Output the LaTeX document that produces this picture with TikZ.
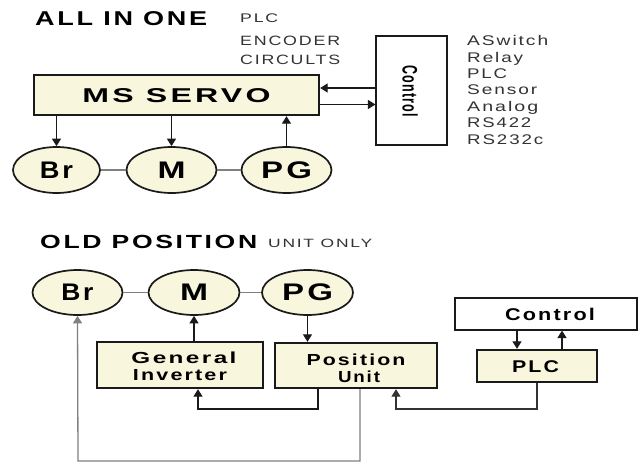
\documentclass[tikz,border=0pt]{standalone}
\usepackage{fontspec}
\setmainfont{Liberation Sans}[LetterSpace=10]
\usepackage{graphicx}
\usetikzlibrary{arrows.meta,shapes.geometric}
\definecolor{cream}{HTML}{F8F6DC}
\definecolor{ink}{HTML}{1A1A1A}
\definecolor{txtgray}{HTML}{333333}
\definecolor{linegray}{HTML}{808080}
\newcommand\ft[3]{\resizebox{#1pt}{\height}{\fontsize{#2}{#2}\selectfont #3}}
\tikzset{
  x=1pt, y=-1pt,
  crbox/.style={draw=ink, line width=2.4pt, fill=cream, inner sep=0pt},
  wbox/.style={draw=ink, line width=1.1pt, fill=white, inner sep=0pt},
  ell/.style={ellipse, draw=ink, line width=1.7pt, fill=cream, inner sep=0pt},
  lbl/.style={inner sep=0pt, anchor=base},
  lblw/.style={inner sep=0pt, anchor=base west, text=txtgray},
  arr/.style={draw=ink, line width=1.3pt, -{Triangle[length=7.5pt,width=9pt]}},
  garr/.style={draw=linegray, line width=1.3pt, -{Triangle[length=7.5pt,width=9pt]}},
  link/.style={draw=linegray, line width=1.4pt},
}
\begin{document}
\begin{tikzpicture}
\fill[white] (0,0) rectangle (642,463);
\useasboundingbox (0,0) rectangle (642,463);

% ---------- ALL IN ONE ----------
\node[lbl, anchor=base west] (t1) at (35,25) {\ft{172}{20}{\bfseries ALL IN ONE}};
\node[lblw] (t1a) at (240,22.7) {\ft{38}{12.5}{PLC}};
\node[lblw] (t1b) at (240,45) {\ft{100}{13.5}{ENCODER}};
\node[lblw] (t1c) at (240,64.5) {\ft{100}{13.5}{CIRCULTS}};

\node[crbox, minimum width=285pt, minimum height=40pt] (servo) at (176.5,95) {};
\node[lbl] (servot) at (176.5,102.7) {\ft{188}{20}{\bfseries MS SERVO}};

\node[wbox, minimum width=71pt, minimum height=109pt] (ctrl) at (411.5,90.5) {};
\node[inner sep=0pt, rotate=-90] (ctrlt) at (410,91) {\ft{52}{21}{\bfseries Control}};

\node[ell, minimum width=87pt, minimum height=46pt] (br) at (56.5,170) {\ft{33}{24}{\bfseries Br}};
\node[ell, minimum width=90pt, minimum height=46pt] (m) at (171.5,170) {\ft{28}{24}{\bfseries M}};
\node[ell, minimum width=90pt, minimum height=46pt] (pg) at (286.5,170) {\ft{51}{24}{\bfseries PG}};

\draw[link] (br.east) -- (m.west);
\draw[link] (m.east) -- (pg.west);

\draw[arr] (servo.south -| br.north) -- (br.north);
\draw[arr] (servo.south -| m.north) -- (m.north);
\draw[arr] (pg.north) -- (pg.north |- servo.south);

\coordinate (c1) at (0,88);
\coordinate (c2) at (0,104.5);
\draw[arr] (ctrl.west |- c1) -- (servo.east |- c1);
\draw[arr] (servo.east |- c2) -- (ctrl.west |- c2);

\node[lblw] (l1) at (467,45.7) {\ft{81}{14}{ASwitch}};
\node[lblw] (l2) at (467,62) {\ft{56}{14}{Relay}};
\node[lblw] (l3) at (467,78) {\ft{40}{14}{PLC}};
\node[lblw] (l4) at (467,94.5) {\ft{70}{14}{Sensor}};
\node[lblw] (l5) at (467,111) {\ft{71}{14}{Analog}};
\node[lblw] (l6) at (467,127.5) {\ft{64}{14}{RS422}};
\node[lblw] (l7) at (467,144) {\ft{76}{14}{RS232c}};

% ---------- OLD POSITION ----------
\node[lbl, anchor=base west] (t2) at (40,248) {\ft{217}{19}{\bfseries OLD POSITION}};
\node[lblw] (t2a) at (268,247) {\ft{104}{12}{UNIT ONLY}};

\node[ell, minimum width=90pt, minimum height=45pt] (br2) at (77.5,292.5) {\ft{32}{24}{\bfseries Br}};
\node[ell, minimum width=91pt, minimum height=45pt] (m2) at (194,292.5) {\ft{28}{24}{\bfseries M}};
\node[ell, minimum width=91pt, minimum height=45pt] (pg2) at (307.5,292.5) {\ft{51}{24}{\bfseries PG}};

\draw[link] (br2.east) -- (m2.west);
\draw[link] (m2.east) -- (pg2.west);

\node[crbox, minimum width=166pt, minimum height=46pt] (gi) at (180,365) {};
\node[lbl] (git1) at (184,363) {\ft{105}{16}{\bfseries General}};
\node[lbl] (git2) at (180,380) {\ft{94}{16}{\bfseries Inverter}};

\node[crbox, minimum width=162pt, minimum height=45pt] (pos) at (356,365.5) {};
\node[lbl] (post1) at (356,365) {\ft{99}{16}{\bfseries Position}};
\node[lbl] (post2) at (359,382) {\ft{42}{16}{\bfseries Unit}};

\node[wbox, minimum width=182pt, minimum height=32pt] (ctrl2) at (546,314) {};
\node[lbl] (ctrl2t) at (550,320) {\ft{90}{17}{\bfseries Control}};

\node[crbox, minimum width=120pt, minimum height=32pt] (plc) at (537,366) {};
\node[lbl] (plct) at (535.5,372) {\ft{47}{17}{\bfseries PLC}};

\draw[arr] (pg2.south) -- (pg2.south |- pos.north);
\draw[arr] (m2.south |- gi.north) -- (m2.south);

\coordinate (a1) at (318,409);
\coordinate (a2) at (198,409);
\draw[arr] (pos.south -| a1) -- (a1) -- (a2) -- (a2 |- gi.south);

\coordinate (b1) at (360,461);
\coordinate (b2) at (78,461);
\draw[garr] (pos.south -| b1) -- (b1) -- (b2) -- (br2.south);

\coordinate (d2) at (396,409);
\draw[arr, draw=txtgray] (plc.south) -- (plc.south |- d2) -- (d2) -- (d2 |- pos.south);

\coordinate (e1) at (517,0);
\coordinate (e2) at (562,0);
\draw[arr] (ctrl2.south -| e1) -- (plc.north -| e1);
\draw[arr] (plc.north -| e2) -- (ctrl2.south -| e2);
\end{tikzpicture}
\end{document}
